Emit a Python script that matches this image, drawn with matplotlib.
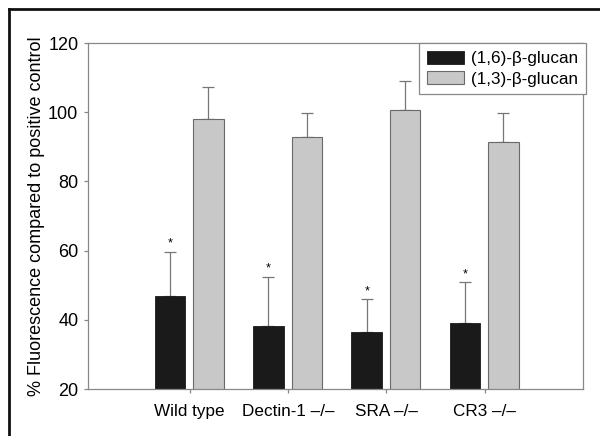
import numpy as np
import matplotlib
matplotlib.use("Agg")
import matplotlib.pyplot as plt
from matplotlib.lines import Line2D

plt.rcParams['font.family'] = ['Liberation Sans', 'DejaVu Sans']

# data
groups = ['Wild type', 'Dectin-1 \u2013/\u2013', 'SRA \u2013/\u2013', 'CR3 \u2013/\u2013']
b16_vals = [47.0, 38.3, 36.5, 39.1]
b16_err = [12.7, 14.2, 9.6, 11.9]
b13_vals = [98.0, 92.8, 100.6, 91.5]
b13_err = [9.4, 7.0, 8.5, 8.3]
series_labels = ['(1,6)-\u03b2-glucan', '(1,3)-\u03b2-glucan']

fig = plt.figure(figsize=(6.0, 4.36), dpi=100)
ax = fig.add_axes([88 / 600, 1 - 389 / 436, (583 - 88) / 600, (389 - 43) / 436])

x = np.arange(len(groups))
w = 0.31
grey = '#888888'

ax.bar(x - 0.2, b16_vals, w, bottom=0, color='#1a1a1a', edgecolor='#1a1a1a',
       linewidth=0.6, label=series_labels[0], zorder=2)
ax.bar(x + 0.19, b13_vals, w, color='#c8c8c8', edgecolor='#6a6a6a',
       linewidth=0.8, label=series_labels[1], zorder=2)

# one sided error bars (upward only)
ax.errorbar(x - 0.2, b16_vals, yerr=[np.zeros(4), b16_err], fmt='none',
            ecolor='#777777', elinewidth=0.9, capsize=4, capthick=0.9, zorder=1)
ax.errorbar(x + 0.19, b13_vals, yerr=[np.zeros(4), b13_err], fmt='none',
            ecolor='#777777', elinewidth=0.9, capsize=4, capthick=0.9, zorder=1)

# significance stars
for xi, v, e in zip(x, b16_vals, b16_err):
    ax.text(xi - 0.2, v + e + 0.5, '*', ha='center', va='bottom', fontsize=9)

ax.set_xlim(-1.035, 4.0)
ax.set_ylim(20, 120)
ax.set_yticks([20, 40, 60, 80, 100, 120])
ax.set_xticks(x)
ax.set_xticklabels(groups, fontsize=12.3)
ax.tick_params(axis='y', labelsize=13, length=3, color=grey, width=0.9, pad=4)
ax.tick_params(axis='x', length=3, color=grey, width=0.9, pad=8)
for s in ax.spines.values():
    s.set_color(grey)
    s.set_linewidth(0.9)

ax.set_ylabel('% Fluorescence compared to positive control', fontsize=13)
ax.yaxis.set_label_coords(-0.086, 0.5)

leg = ax.legend(loc='upper right', bbox_to_anchor=(1.006, 1.0), fontsize=12.3,
                frameon=True, fancybox=False, edgecolor=grey, framealpha=1,
                handlelength=2.2, handleheight=0.8, handletextpad=0.4,
                borderpad=0.45, labelspacing=0.3, borderaxespad=0)
leg.get_frame().set_linewidth(0.9)

# outer frame (top and left lines)
fig.add_artist(Line2D([9 / 600, 9 / 600], [0, 1 - 9 / 436], color='#111111',
                      lw=2, transform=fig.transFigure))
fig.add_artist(Line2D([9 / 600, 1], [1 - 9 / 436, 1 - 9 / 436], color='#111111',
                      lw=2, transform=fig.transFigure))

fig.savefig('out.png', dpi=100)
